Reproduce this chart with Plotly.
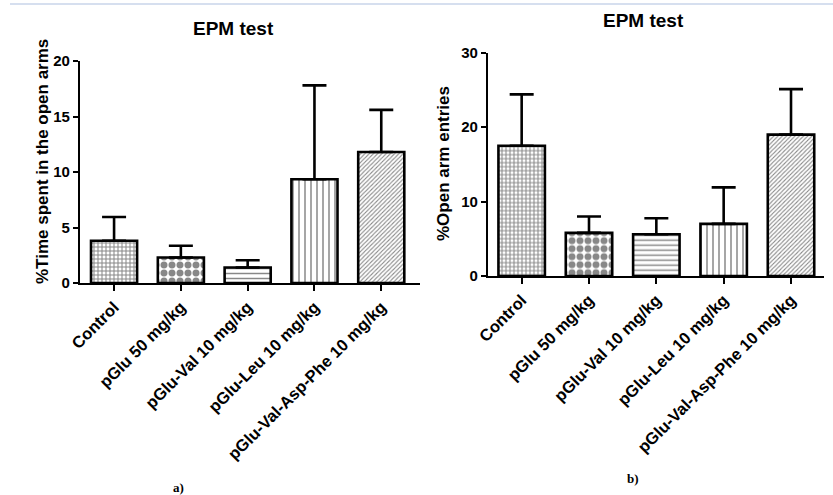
import plotly.graph_objects as go

categories = ["Control", "pGlu 50 mg/kg", "pGlu-Val 10 mg/kg", "pGlu-Leu 10 mg/kg", "pGlu-Val-Asp-Phe 10 mg/kg"]
time_open = [3.8, 2.3, 1.4, 9.35, 11.8]
time_open_err = [2.15, 1.05, 0.65, 8.45, 3.8]
entries_open = [17.5, 5.8, 5.6, 7.0, 19.0]
entries_open_err = [6.9, 2.2, 2.15, 4.9, 6.1]
patterns = ["+", ".", "-", "|", "/"]
pattern_sizes = [4, 8, 5, 6, 3]
pattern_solidity = [0.45, 0.6, 0.3, 0.25, 0.35]

W, H = 833, 495
FONT = "Liberation Sans"

fig = go.Figure()

def add_bars(vals, errs, xa, ya):
    fig.add_trace(go.Bar(
        x=categories, y=vals, xaxis=xa, yaxis=ya, width=0.69,
        marker=dict(color="white",
                    line=dict(color="black", width=2.6),
                    pattern=dict(shape=patterns, size=pattern_sizes,
                                 solidity=pattern_solidity, fgcolor="#111111",
                                 bgcolor="white", fillmode="overlay")),
        error_y=dict(type="data", array=errs, arrayminus=[0]*len(errs),
                     symmetric=False, color="black", thickness=2.6, width=12),
        showlegend=False, hoverinfo="skip",
    ))

add_bars(time_open, time_open_err, "x", "y")
add_bars(entries_open, entries_open_err, "x2", "y2")

def px_x(p):
    return p / W

def px_y(p):
    return 1 - p / H

axis_common = dict(showline=True, linecolor="black", linewidth=2.2, showgrid=False,
                   zeroline=False, ticks="outside", tickcolor="black", tickwidth=2,
                   mirror=False, automargin=False)

fig.update_layout(
    width=W, height=H, margin=dict(l=0, r=0, t=0, b=0, autoexpand=False),
    paper_bgcolor="white", plot_bgcolor="white", bargap=0.3,
    font=dict(family=FONT, color="black"),
    xaxis=dict(domain=[px_x(80), px_x(420)], anchor="y", range=[-0.51, 4.58],
               ticklen=6, tickangle=-45,
               tickfont=dict(size=16.5, family=FONT, weight="bold"), **axis_common),
    yaxis=dict(domain=[px_y(283), px_y(61)], anchor="x", range=[0, 20],
               tickvals=[0, 5, 10, 15, 20], ticklen=5,
               tickfont=dict(size=15, family=FONT, weight="bold"), **axis_common),
    xaxis2=dict(domain=[px_x(488), px_x(824)], anchor="y2", range=[-0.5, 4.49],
                ticklen=6, tickangle=-45,
                tickfont=dict(size=16.5, family=FONT, weight="bold"), **axis_common),
    yaxis2=dict(domain=[px_y(276), px_y(52.7)], anchor="x2", range=[0, 30],
                tickvals=[0, 10, 20, 30], ticklen=5,
                tickfont=dict(size=15, family=FONT, weight="bold"), **axis_common),
)

annotations = [
    dict(text="EPM test", x=px_x(233), y=px_y(28), font=dict(size=19, weight="bold")),
    dict(text="EPM test", x=px_x(643), y=px_y(20), font=dict(size=19, weight="bold")),
    dict(text="%Time spent in the open arms", x=px_x(42), y=px_y(162), textangle=-90,
         font=dict(size=17, weight="bold")),
    dict(text="%Open arm entries", x=px_x(443), y=px_y(163), textangle=-90,
         font=dict(size=17, weight="bold")),
    dict(text="a)", x=px_x(178), y=px_y(487), font=dict(size=13, family="Liberation Serif", weight="bold")),
    dict(text="b)", x=px_x(633), y=px_y(478), font=dict(size=13, family="Liberation Serif", weight="bold")),
]
for a in annotations:
    a.update(xref="paper", yref="paper", showarrow=False, xanchor="center", yanchor="middle")
    fig.add_annotation(**a)

fig.add_shape(type="line", xref="paper", yref="paper", x0=px_x(10), x1=1,
              y0=px_y(4), y1=px_y(4), line=dict(color="#c8d4ea", width=1.5))

fig.write_html("out.html", config={"displayModeBar": False},
               post_script="document.body.style.margin='0';document.body.style.padding='0';"
                           "document.body.style.overflow='hidden';")
